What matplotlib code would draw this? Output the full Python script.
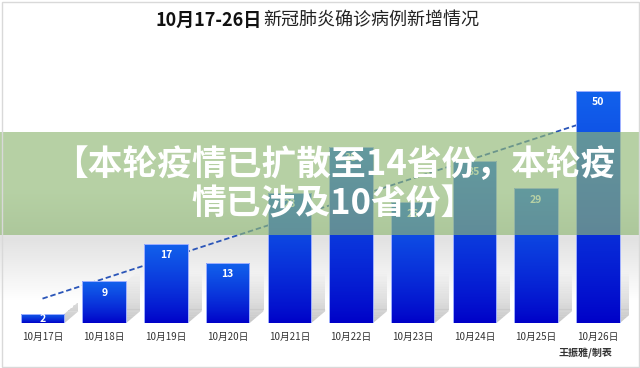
"""Recreate the 10/17-26 new confirmed cases bar chart with banner overlay."""

import matplotlib

matplotlib.use("Agg")
import matplotlib.pyplot as plt
import numpy as np
from matplotlib.patches import Polygon, Rectangle

plt.rcParams["font.family"] = ["Noto Sans CJK SC", "DejaVu Sans"]

# data
dates = ["10月17日", "10月18日", "10月19日", "10月20日", "10月21日",
         "10月22日", "10月23日", "10月24日", "10月25日", "10月26日"]
new_cases = [2, 9, 17, 13, 28, 38, 26, 35, 29, 50]

TITLE_BOLD = "10月17-26日"
TITLE_REST = "新冠肺炎确诊病例新增情况"
BANNER = "【本轮疫情已扩散至14省份，本轮疫\n情已涉及10省份】"
CREDIT = "王振雅/制表"

W, H = 640, 368
YMAX = 60


def draw_shadow(ax, xr, v, dx=0.23, dy=2.6, fade=11.0, steps=30):
    """Soft shadow to the right of a bar, fading out upwards."""
    top = min(v + dy, fade)
    edges = np.linspace(0, top, steps + 1)

    def right(y):
        return xr + dx * min(y / dy, 1.0)

    def left(y):
        return xr if y <= v else xr + dx * min((y - v) / dy, 1.0)

    for y0, y1 in zip(edges[:-1], edges[1:]):
        a = 0.5 * (1 - 0.5 * (y0 + y1) / fade)
        if a <= 0:
            continue
        ax.add_patch(Polygon([(left(y0), y0), (right(y0), y0), (right(y1), y1), (left(y1), y1)],
                             closed=True, facecolor="#8a8a8a", edgecolor="none",
                             alpha=a, zorder=1.5))


def main() -> None:
    fig = plt.figure(figsize=(W / 100, H / 100), dpi=100, facecolor="white")

    # soft grey "floor" behind the bars
    ax_bg = fig.add_axes([0, 0, 1, 1], zorder=-2)
    rows = np.arange(H)
    shade = np.interp(rows, [0, 190, 238, 300, H], [255, 255, 226, 255, 255]) / 255.0
    ax_bg.imshow(np.repeat(shade[:, None, None], 3, axis=2), extent=(0, 1, 0, 1),
                 aspect="auto", interpolation="bilinear")
    ax_bg.axis("off")

    ax = fig.add_axes([11.65 / W, 44.7 / H, 617 / W, 279 / H], zorder=1)
    ax.patch.set_visible(False)
    x = np.arange(len(dates))
    width = 0.705

    # linear trend line behind the bars
    coef = np.polyfit(x, new_cases, 1)
    ax.plot(x, np.polyval(coef, x), color="#2a55b8", lw=1.3,
            linestyle=(0, (3, 1.6)), zorder=2)

    # bars with vertical gradient
    bars = ax.bar(x, new_cases, width, facecolor="none", edgecolor="#9fb0ff",
                  lw=0.7, zorder=4)
    t = np.linspace(0, 1, 100) ** 0.8
    bottom_c = np.array([0, 0, 200]) / 255.0
    top_c = np.array([18, 98, 236]) / 255.0
    grad = (bottom_c[None, :] * (1 - t[:, None]) + top_c[None, :] * t[:, None])[:, None, :]

    for b in bars:
        xl, xr, v = b.get_x(), b.get_x() + b.get_width(), b.get_height()
        draw_shadow(ax, xr, v)
        im = ax.imshow(grad, extent=(xl, xr, 0, v), origin="lower",
                       aspect="auto", zorder=3)
        im.set_clip_path(b)

    for xi, v in zip(x, new_cases):
        ax.text(xi, max(v - 2.4, v / 2), str(v), ha="center", va="center",
                color="white", fontsize=7.5, fontweight="bold", zorder=5)

    ax.set_xlim(-0.5, 9.5)
    ax.set_ylim(0, YMAX)
    ax.set_xticks(x, dates)
    ax.set_yticks([])
    ax.tick_params(axis="x", length=0, pad=6, labelsize=7, labelcolor="#333333")
    for spine in ax.spines.values():
        spine.set_visible(False)

    # title
    fig.text(262 / W, (H - 20) / H, TITLE_BOLD, ha="right", va="center",
             fontsize=13, fontweight="bold", color="#111111")
    fig.text(263 / W, (H - 20) / H, TITLE_REST, ha="left", va="center",
             fontsize=13, color="#222222")

    fig.text(612 / W, (H - 353) / H, CREDIT, ha="right", va="center",
             fontsize=7.2, fontweight="bold", color="#333333")

    # translucent green banner over the chart
    fig.add_artist(Rectangle((0, (H - 235) / H), 1, 103 / H, transform=fig.transFigure,
                             facecolor="#8fb874", alpha=0.65, edgecolor="none", zorder=5))
    fig.text(334 / W, (H - 184) / H, BANNER, ha="center", va="center",
             fontsize=25, fontweight="heavy", color="white", linespacing=1.15, zorder=6)

    fig.add_artist(Rectangle((1.5 / W, 1.5 / H), 637 / W, 365 / H, transform=fig.transFigure,
                             fill=False, edgecolor="#d9d9d9", lw=1, zorder=7))

    fig.savefig("out.png", dpi=100)
    plt.close(fig)


if __name__ == "__main__":
    main()
